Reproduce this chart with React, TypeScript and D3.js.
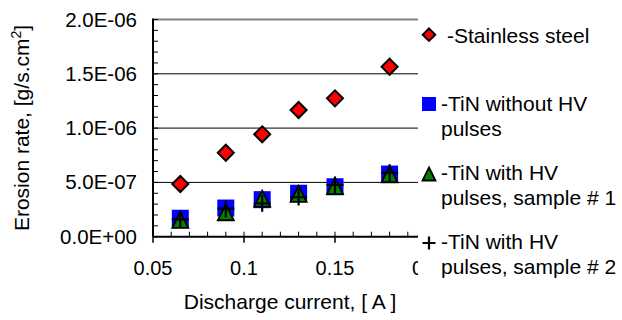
import React, { useEffect, useRef } from 'react';
import * as d3 from 'd3';

// discharge current, A
const current = [0.065, 0.09, 0.11, 0.13, 0.15, 0.18];
// erosion rate, g/s.cm2
const steel = [4.85e-7, 7.73e-7, 9.43e-7, 1.167e-6, 1.274e-6, 1.565e-6];
const tinNoHv = [1.7e-7, 2.64e-7, 3.41e-7, 4.0e-7, 4.6e-7, 5.77e-7];
const tinHv1 = [1.55e-7, 2.25e-7, 3.5e-7, 3.95e-7, 4.65e-7, 5.75e-7];
const tinHv2 = [1.6e-7, 2.58e-7, 3.07e-7, 3.65e-7, 4.76e-7, 5.89e-7];

const xTicks = [0.05, 0.1, 0.15, 0.2];
const xTickLabels = ['0.05', '0.1', '0.15', '0.2'];
const yTicks = [0, 5e-7, 1e-6, 1.5e-6, 2e-6];
const yTickLabels = ['0.0E+00', '5.0E-07', '1.0E-06', '1.5E-06', '2.0E-06'];

const legendLines = [
  ['-Stainless steel'],
  ['-TiN without HV', 'pulses'],
  ['-TiN with HV', 'pulses, sample # 1'],
  ['-TiN with HV', 'pulses, sample # 2'],
];

const FONT = '"Liberation Sans", Arial, sans-serif';

const App = () => {
  const ref = useRef<SVGSVGElement>(null);

  useEffect(() => {
    document.body.style.margin = '0';
    const width = 622;
    const height = 320;
    const svg = d3.select(ref.current).attr('width', width).attr('height', height);
    svg.selectAll('*').remove();

    const x = d3.scaleLinear().domain([0.05, 0.2]).range([153, 426]);
    const y = d3.scaleLinear().domain([0, 2e-6]).range([236.7, 19.5]);
    const clipRight = 418;

    svg.append('rect').attr('width', width).attr('height', height).attr('fill', '#fff');

    // gridlines
    svg.selectAll('.grid')
      .data(yTicks.slice(1, -1))
      .enter()
      .append('line')
      .attr('x1', x(0.05))
      .attr('x2', clipRight)
      .attr('y1', d => y(d))
      .attr('y2', d => y(d))
      .attr('stroke', '#000')
      .attr('stroke-width', 1);

    // top border (grey)
    svg.append('line')
      .attr('x1', x(0.05)).attr('x2', clipRight)
      .attr('y1', y(2e-6)).attr('y2', y(2e-6))
      .attr('stroke', '#808080').attr('stroke-width', 2);

    // y axis minor ticks (inward)
    const yMinor = d3.range(0, 21).map(i => i * 1e-7);
    svg.selectAll('.ymin')
      .data(yMinor)
      .enter()
      .append('line')
      .attr('x1', x(0.05))
      .attr('x2', x(0.05) + 5)
      .attr('y1', d => y(d))
      .attr('y2', d => y(d))
      .attr('stroke', '#000')
      .attr('stroke-width', 1);

    // x axis minor ticks (inward) and major ticks (outward)
    const xMinor = d3.range(5, 21).map(i => i / 100);
    svg.selectAll('.xmin')
      .data(xMinor.filter(d => x(d) < clipRight))
      .enter()
      .append('line')
      .attr('x1', d => x(d))
      .attr('x2', d => x(d))
      .attr('y1', y(0) - 5)
      .attr('y2', y(0))
      .attr('stroke', '#000')
      .attr('stroke-width', 1);
    svg.selectAll('.xmaj')
      .data(xTicks.filter(d => x(d) < clipRight))
      .enter()
      .append('line')
      .attr('x1', d => x(d))
      .attr('x2', d => x(d))
      .attr('y1', y(0))
      .attr('y2', y(0) + 6)
      .attr('stroke', '#000')
      .attr('stroke-width', 1.5);

    // axis lines
    svg.append('line')
      .attr('x1', x(0.05)).attr('x2', x(0.05))
      .attr('y1', y(2e-6) - 1).attr('y2', y(0))
      .attr('stroke', '#000').attr('stroke-width', 2);
    svg.append('line')
      .attr('x1', x(0.05)).attr('x2', clipRight)
      .attr('y1', y(0)).attr('y2', y(0))
      .attr('stroke', '#000').attr('stroke-width', 2);

    // tick labels
    svg.selectAll('.ylab')
      .data(yTicks)
      .enter()
      .append('text')
      .attr('x', 137)
      .attr('y', d => y(d) + 7)
      .attr('text-anchor', 'end')
      .style('font-family', FONT)
      .style('font-size', '20.5px')
      .attr('fill', '#000')
      .text((d, i) => yTickLabels[i]);

    svg.selectAll('.xlab')
      .data(xTicks)
      .enter()
      .append('text')
      .attr('x', d => x(d))
      .attr('y', 275)
      .attr('text-anchor', 'middle')
      .style('font-family', FONT)
      .style('font-size', '20px')
      .attr('fill', '#000')
      .text((d, i) => xTickLabels[i]);

    // axis titles
    svg.append('text')
      .attr('x', 290)
      .attr('y', 309)
      .attr('text-anchor', 'middle')
      .style('font-family', FONT)
      .style('font-size', '21px')
      .text('Discharge current, [ A ]');

    const yt = svg.append('text')
      .attr('transform', 'translate(29,128) rotate(-90)')
      .attr('text-anchor', 'middle')
      .style('font-family', FONT)
      .style('font-size', '21px');
    yt.append('tspan').text('Erosion rate, [g/s.cm');
    yt.append('tspan').attr('dy', -8).style('font-size', '14px').text('2');
    yt.append('tspan').attr('dy', 8).text(']');

    // marker helpers
    const diamond = (s: number) => `M0,${-s / 2}L${s / 2},0L0,${s / 2}L${-s / 2},0Z`;
    const square = (s: number) => `M${-s / 2},${-s / 2}h${s}v${s}h${-s}Z`;
    const triangle = (w: number, h: number) => `M0,${-h / 2}L${w / 2},${h / 2}L${-w / 2},${h / 2}Z`;
    const plus = (s: number) => `M${-s / 2},0h${s}M0,${-s / 2}v${s}`;

    const pts = (vals: number[]) => vals.map((v, i) => ({ cx: current[i], v }));

    const g = svg.append('g');

    g.selectAll('.sq')
      .data(pts(tinNoHv))
      .enter()
      .append('path')
      .attr('d', square(17))
      .attr('transform', d => `translate(${x(d.cx)},${y(d.v)})`)
      .attr('fill', '#0000ff');

    g.selectAll('.tri')
      .data(pts(tinHv1))
      .enter()
      .append('path')
      .attr('d', triangle(16, 16))
      .attr('transform', d => `translate(${x(d.cx)},${y(d.v)})`)
      .attr('fill', '#008000')
      .attr('stroke', '#000')
      .attr('stroke-width', 1.8)
      .attr('stroke-linejoin', 'miter');

    g.selectAll('.pl')
      .data(pts(tinHv2))
      .enter()
      .append('path')
      .attr('d', plus(17))
      .attr('transform', d => `translate(${x(d.cx)},${y(d.v)})`)
      .attr('fill', 'none')
      .attr('stroke', '#000')
      .attr('stroke-width', 2.2);

    g.selectAll('.dia')
      .data(pts(steel))
      .enter()
      .append('path')
      .attr('d', diamond(16))
      .attr('transform', d => `translate(${x(d.cx)},${y(d.v)})`)
      .attr('fill', '#ff0000')
      .attr('stroke', '#000')
      .attr('stroke-width', 2)
      .attr('stroke-linejoin', 'miter');

    // legend (white box overlaps the right edge of the plot)
    const legend = svg.append('g');
    legend.append('rect')
      .attr('x', clipRight).attr('y', 0)
      .attr('width', width - clipRight).attr('height', height)
      .attr('fill', '#fff');

    const lx = 429;
    const markerY = [34.7, 104, 174, 243];
    const textX = [447, 441, 441, 441];
    const textY = [42.7, 111, 180, 249];

    legend.append('path').attr('d', diamond(12.5))
      .attr('transform', `translate(${lx},${markerY[0]})`)
      .attr('fill', '#ff0000').attr('stroke', '#000').attr('stroke-width', 2);
    legend.append('path').attr('d', square(14))
      .attr('transform', `translate(${lx},${markerY[1]})`)
      .attr('fill', '#0000ff');
    legend.append('path').attr('d', triangle(13, 13))
      .attr('transform', `translate(${lx},${markerY[2]})`)
      .attr('fill', '#008000').attr('stroke', '#000').attr('stroke-width', 1.8);
    legend.append('path').attr('d', plus(13))
      .attr('transform', `translate(${lx},${markerY[3]})`)
      .attr('fill', 'none').attr('stroke', '#000').attr('stroke-width', 2.2);

    legendLines.forEach((lines, i) => {
      const t = legend.append('text')
        .attr('x', textX[i])
        .attr('y', textY[i])
        .style('font-family', FONT)
        .style('font-size', '21px')
        .attr('fill', '#000');
      lines.forEach((ln, j) => {
        t.append('tspan')
          .attr('x', textX[i])
          .attr('dy', j === 0 ? 0 : 25)
          .text(ln);
      });
    });
  }, []);

  return <svg ref={ref} style={{ display: 'block' }} />;
};

export default App;
